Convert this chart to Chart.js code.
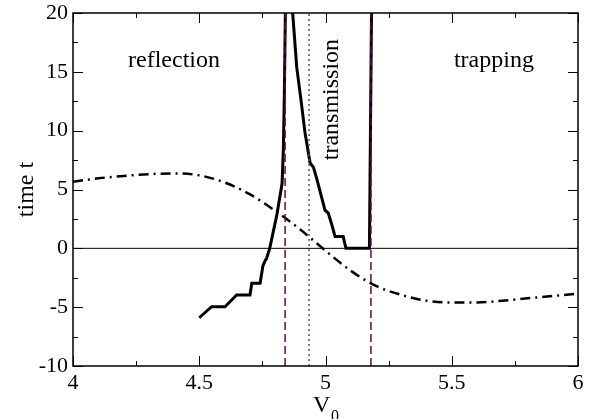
<!DOCTYPE html>
<html>
<head>
<meta charset="utf-8">
<script src="https://cdn.jsdelivr.net/npm/chart.js@4"></script>
<style>
  body { margin: 0; background: #fff; }
  #wrap { width: 590px; height: 419px; position: relative; }
</style>
</head>
<body>
<div id="wrap"><canvas id="chart"></canvas></div>
<script>
// solid curve (time t vs V0), branch going off the top is joined above the plot
const solidV = [4.5, 4.549, 4.602, 4.648, 4.701, 4.708, 4.741, 4.752, 4.762, 4.766, 4.779, 4.807, 4.828, 4.833, 4.837, 4.841, 4.842, 4.869, 4.870, 4.886, 4.903, 4.919, 4.939, 4.952, 4.965, 4.998, 5.011, 5.025, 5.038, 5.07, 5.081, 5.174, 5.183];
const solidT = [-5.9, -4.96, -4.96, -3.97, -3.97, -2.97, -2.97, -1.5, -1.0, -0.9, 0, 2.8, 5.5, 8.3, 13, 20, 22, 22, 20, 15.4, 12.6, 9.8, 7.25, 6.9, 5.95, 3.25, 3.0, 2.0, 1.0, 1.0, 0, 0, 22];

// dash-dot curve
const dashV = [4.0, 4.1, 4.2, 4.3, 4.4, 4.5, 4.6, 4.7, 4.8, 4.9, 5.0, 5.1, 5.2, 5.3, 5.4, 5.5, 5.6, 5.7, 5.8, 5.9, 6.0];
const dashT = [5.66, 5.95, 6.15, 6.3, 6.37, 6.2, 5.6, 4.6, 3.2, 1.6, -0.2, -1.9, -3.2, -3.95, -4.45, -4.6, -4.6, -4.45, -4.25, -4.05, -3.85];

// vertical markers
const dashedMarks = [4.84, 5.18];
const dottedMark = 4.935;

const xTicks = [4, 4.5, 5, 5.5, 6];
const yTicks = [-10, -5, 0, 5, 10, 15, 20];

const maroon = '#670748';
const serif = "'Liberation Serif', 'DejaVu Serif', serif";

const pts = (xs, ys) => xs.map((x, i) => ({ x: x, y: ys[i] }));
const vline = x => [{ x: x, y: -10 }, { x: x, y: 20 }];

// frame, inward ticks and text labels
const decor = {
  id: 'decor',
  afterDatasetsDraw(chart) {
    const ctx = chart.ctx;
    const a = chart.chartArea;
    const xs = chart.scales.x, ys = chart.scales.y;
    ctx.save();
    ctx.strokeStyle = '#000';
    ctx.lineWidth = 1.5;
    ctx.strokeRect(a.left, a.top, a.right - a.left, a.bottom - a.top);
    ctx.lineWidth = 1;
    ctx.beginPath();
    for (let v = 4; v <= 6.001; v += 0.25) {
      const px = Math.round(xs.getPixelForValue(v)) + 0.5;
      const len = Math.abs(v * 2 - Math.round(v * 2)) < 0.01 ? 10 : 5;
      ctx.moveTo(px, a.bottom); ctx.lineTo(px, a.bottom - len);
      ctx.moveTo(px, a.top); ctx.lineTo(px, a.top + len);
    }
    for (let t = -10; t <= 20.001; t += 2.5) {
      const py = Math.round(ys.getPixelForValue(t)) + 0.5;
      const len = Math.abs(t / 5 - Math.round(t / 5)) < 0.01 ? 10 : 5;
      ctx.moveTo(a.left, py); ctx.lineTo(a.left + len, py);
      ctx.moveTo(a.right, py); ctx.lineTo(a.right - len, py);
    }
    ctx.stroke();

    ctx.fillStyle = '#000';
    ctx.font = '24px ' + serif;
    ctx.textAlign = 'center';
    ctx.textBaseline = 'alphabetic';
    ctx.fillText('reflection', xs.getPixelForValue(4.40), ys.getPixelForValue(15.4));
    ctx.fillText('trapping', xs.getPixelForValue(5.667), ys.getPixelForValue(15.4));

    ctx.save();
    ctx.translate(xs.getPixelForValue(5.05), ys.getPixelForValue(12.64));
    ctx.rotate(-Math.PI / 2);
    ctx.fillText('transmission', 0, 0);
    ctx.restore();

    // axis titles
    ctx.save();
    ctx.translate(33, 189.5);
    ctx.rotate(-Math.PI / 2);
    ctx.fillText('time t', 0, 0);
    ctx.restore();

    ctx.textAlign = 'left';
    ctx.font = '24px ' + serif;
    ctx.fillText('V', 313, 411.5);
    ctx.font = '16px ' + serif;
    ctx.fillText('0', 331, 421);
    ctx.restore();
  }
};

new Chart(document.getElementById('chart'), {
  type: 'line',
  data: {
    datasets: [
      {
        data: [{ x: 4, y: 0 }, { x: 6, y: 0 }],
        borderColor: '#000', borderWidth: 1, pointRadius: 0, clip: 0
      },
      {
        data: vline(dashedMarks[0]),
        borderColor: maroon, borderWidth: 1.5, borderDash: [8, 4], pointRadius: 0, clip: 0
      },
      {
        data: vline(dashedMarks[1]),
        borderColor: maroon, borderWidth: 1.5, borderDash: [8, 4], pointRadius: 0, clip: 0
      },
      {
        data: vline(dottedMark),
        borderColor: '#8a3a78', borderWidth: 1.5, borderDash: [2, 3], pointRadius: 0, clip: 0
      },
      {
        data: pts(dashV, dashT),
        borderColor: '#000', borderWidth: 2.5, borderDash: [10, 5, 2, 5],
        pointRadius: 0, cubicInterpolationMode: 'monotone', clip: 0
      },
      {
        data: pts(solidV, solidT),
        borderColor: '#000', borderWidth: 3, pointRadius: 0, tension: 0, clip: 0
      }
    ]
  },
  options: {
    responsive: true,
    maintainAspectRatio: false,
    animation: false,
    events: [],
    layout: { padding: { top: 13, right: 12, left: 0, bottom: 0 } },
    plugins: { legend: { display: false }, tooltip: { enabled: false } },
    scales: {
      x: {
        type: 'linear', min: 4, max: 6,
        afterFit: s => { s.height = 53; s.paddingLeft = 0; s.paddingRight = 0; },
        afterBuildTicks: s => { s.ticks = xTicks.map(v => ({ value: v })); },
        grid: { display: false, drawTicks: false },
        border: { display: false },
        ticks: { color: '#000', padding: 4, maxRotation: 0, callback: v => String(v), font: { family: serif, size: 22 } }
      },
      y: {
        type: 'linear', min: -10, max: 20,
        afterFit: s => { s.width = 73; s.paddingTop = 0; s.paddingBottom = 0; },
        afterBuildTicks: s => { s.ticks = yTicks.map(v => ({ value: v })); },
        grid: { display: false, drawTicks: false },
        border: { display: false },
        ticks: { color: '#000', padding: 5, callback: v => String(v), font: { family: serif, size: 22 } }
      }
    }
  },
  plugins: [decor]
});
</script>
</body>
</html>
